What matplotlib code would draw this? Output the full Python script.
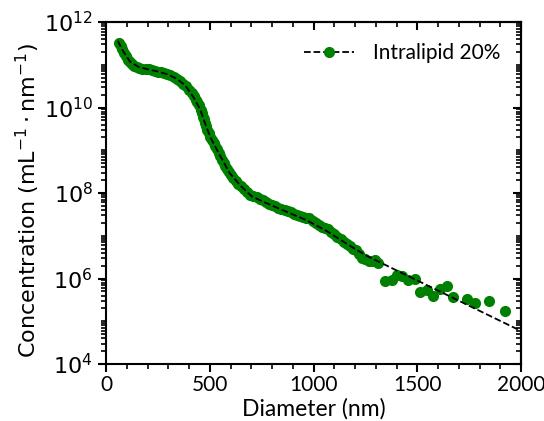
import matplotlib
matplotlib.use('Agg')
import matplotlib.pyplot as plt
from matplotlib.lines import Line2D
from matplotlib.ticker import LogLocator, MultipleLocator, NullFormatter
import numpy as np

# measured points (diameter in nm, log10 concentration)
dot_d = [62, 70, 78, 86, 95, 105, 115, 125, 135, 148, 160, 175, 190, 205, 220, 235,
         250, 265, 280, 295, 310, 325, 340, 355, 370, 385, 400, 412, 422, 432, 440,
         448, 455, 460, 465, 470, 476, 482, 488, 495, 502, 510, 518, 526, 534, 542,
         550, 558, 566, 574, 582, 590, 600, 612, 625, 638, 652, 666, 680, 695, 710,
         725, 740, 755, 770, 785, 800, 815, 830, 845, 860, 875, 890, 905, 920, 935,
         950, 965, 980, 995, 1010, 1025, 1040, 1055, 1070, 1085, 1100, 1115, 1130,
         1145, 1160, 1175, 1190, 1205, 1220, 1235, 1250, 1265, 1280, 1295, 1310,
         1345, 1377, 1401, 1425, 1457, 1489, 1513, 1545, 1577, 1610, 1641, 1674,
         1738, 1778, 1847, 1924]
dot_logc = [11.52, 11.44, 11.36, 11.28, 11.20, 11.12, 11.06, 11.01, 10.98, 10.95,
            10.93, 10.91, 10.90, 10.89, 10.87, 10.86, 10.84, 10.82, 10.80, 10.78,
            10.75, 10.71, 10.67, 10.62, 10.56, 10.50, 10.42, 10.34, 10.26, 10.18,
            10.12, 10.05, 9.95, 9.86, 9.78, 9.72, 9.64, 9.56, 9.48, 9.40, 9.32, 9.25,
            9.18, 9.10, 9.02, 8.94, 8.86, 8.78, 8.70, 8.63, 8.56, 8.50, 8.43, 8.35,
            8.28, 8.22, 8.16, 8.10, 8.02, 7.96, 7.93, 7.90, 7.86, 7.83, 7.79, 7.74,
            7.71, 7.69, 7.66, 7.63, 7.60, 7.57, 7.55, 7.52, 7.49, 7.46, 7.43, 7.42,
            7.41, 7.35, 7.29, 7.25, 7.21, 7.18, 7.16, 7.09, 7.03, 6.98, 6.93, 6.85,
            6.80, 6.77, 6.70, 6.66, 6.58, 6.47, 6.45, 6.42, 6.42, 6.43, 6.36,
            5.93, 5.96, 6.08, 6.06, 5.96, 6.00, 5.69, 5.73, 5.59, 5.75, 5.82, 5.57,
            5.51, 5.42, 5.47, 5.25]

# dashed fit curve
fit_d = [56, 83, 116, 156, 204, 252, 300, 341, 381, 421, 453, 477, 501, 533, 560,
         595, 646, 702, 774, 870, 967, 1063, 1160, 1256, 1353, 2000]
fit_logc = [11.56, 11.31, 11.07, 10.95, 10.89, 10.84, 10.77, 10.67, 10.52, 10.24,
            9.96, 9.63, 9.32, 9.02, 8.78, 8.47, 8.18, 7.92, 7.76, 7.56, 7.36, 7.11,
            6.81, 6.53, 6.30, 4.77]

label = 'Intralipid 20%'
side_font = 'Lato'

fig = plt.figure(figsize=(5.44, 4.21), dpi=100)
ax = fig.add_axes([0.195, 0.1354, 0.763, 0.8123])

ax.plot(dot_d, 10 ** np.array(dot_logc), 'o', color='green', ms=7, zorder=2)
ax.plot(fit_d, 10 ** np.array(fit_logc), '--', color='black', lw=1.3, zorder=3)

ax.set_yscale('log')
ax.set_xlim(0, 2000)
ax.set_ylim(1e4, 1e12)

ax.xaxis.set_major_locator(MultipleLocator(500))
ax.xaxis.set_minor_locator(MultipleLocator(100))
ax.yaxis.set_major_locator(LogLocator(base=100, numticks=10))
ax.yaxis.set_minor_locator(LogLocator(base=10, subs=np.arange(1, 10), numticks=50))
ax.yaxis.set_minor_formatter(NullFormatter())

for s in ax.spines.values():
    s.set_linewidth(1.5)
ax.tick_params(which='major', direction='out', length=6, width=1.5)
ax.tick_params(which='minor', direction='out', length=3.5, width=1.2)
ax.tick_params(axis='y', labelsize=16)
ax.tick_params(axis='x', labelsize=15, pad=2)
for t in ax.get_xticklabels():
    t.set_family(side_font)

# inward ticks on top and right
top = ax.secondary_xaxis('top')
top.xaxis.set_major_locator(MultipleLocator(500))
top.xaxis.set_minor_locator(MultipleLocator(100))
top.tick_params(which='major', direction='in', length=6, width=1.5, labeltop=False)
top.tick_params(which='minor', direction='in', length=3.5, width=1.2)
top.spines['top'].set_linewidth(1.5)
right = ax.secondary_yaxis('right')
right.yaxis.set_major_locator(LogLocator(base=100, numticks=10))
right.yaxis.set_minor_locator(LogLocator(base=10, subs=np.arange(1, 10), numticks=50))
right.yaxis.set_minor_formatter(NullFormatter())
right.tick_params(which='major', direction='in', length=6, width=1.5, labelright=False)
right.tick_params(which='minor', direction='in', length=3.5, width=1.2, labelright=False)
right.spines['right'].set_linewidth(1.5)

ax.set_xlabel('Diameter (nm)', fontsize=16.5, family=side_font, labelpad=2)
ax.set_ylabel(r'Concentration (mL$^{-1}\cdot$nm$^{-1}$)', fontsize=16)
ax.yaxis.set_label_coords(-0.155, 0.478)

handle = Line2D([], [], color='black', ls='--', lw=1.3, marker='o',
                mfc='green', mec='green', ms=7)
ax.legend([handle], [label], loc='upper right', frameon=False,
          prop={'family': side_font, 'size': 15}, handlelength=2.4,
          handletextpad=0.9, borderaxespad=0.6)

fig.savefig('out.png', dpi=100)
